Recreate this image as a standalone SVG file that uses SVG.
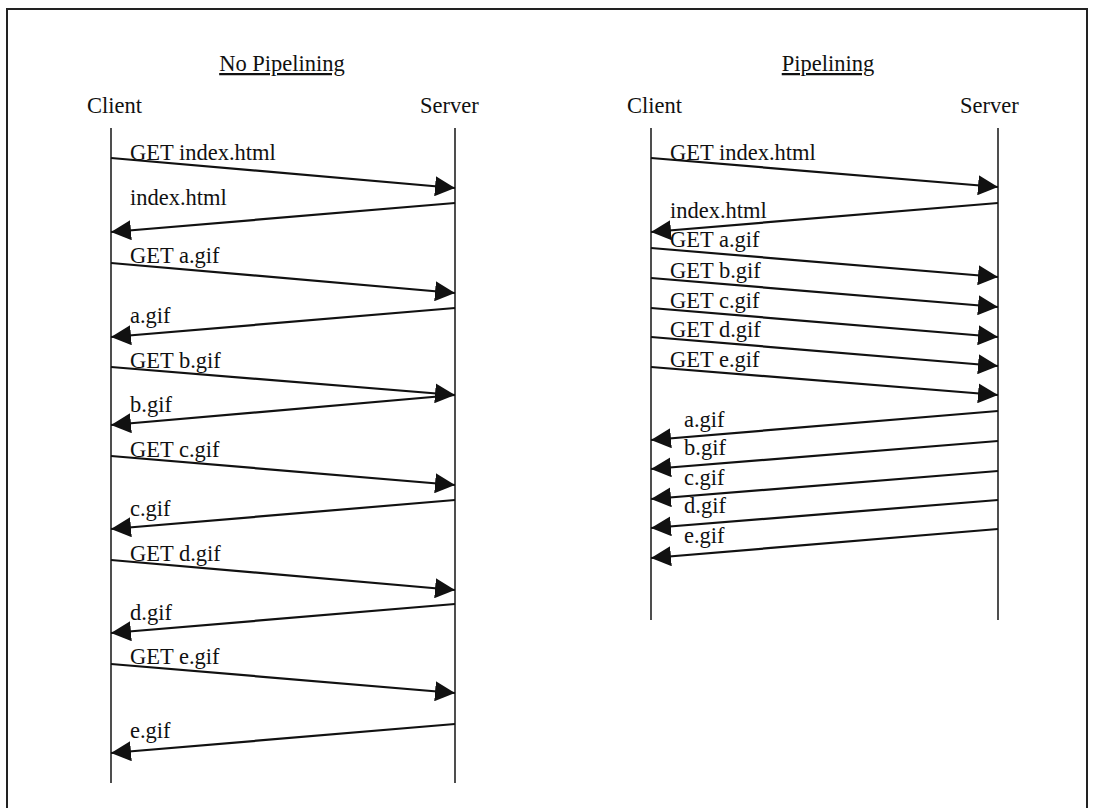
<svg xmlns="http://www.w3.org/2000/svg" width="1094" height="808" viewBox="0 0 1094 808">
<style>
text{font-family:"Liberation Serif","Times New Roman",serif;font-size:22.5px;fill:#111}
.title{text-decoration:underline;text-anchor:middle}
.life{stroke:#222;stroke-width:1.6;fill:none}
.msg{stroke:#111;stroke-width:2.2;fill:none;marker-end:url(#ah)}
</style>
<defs>
<marker id="ah" markerUnits="userSpaceOnUse" viewBox="0 0 20 20" markerWidth="20" markerHeight="20" refX="20" refY="10" orient="auto">
<path d="M0,0 L20,10 L0,20 Z" fill="#111"/>
</marker>
</defs>
<rect width="1094" height="808" fill="#fff"/>
<path d="M7,820 V9 H1087 V820" fill="none" stroke="#222" stroke-width="2"/>

<g id="left-title"><text class="title" x="282" y="71">No Pipelining</text></g>
<g id="left-client"><text x="87" y="113">Client</text><line class="life" x1="111" y1="128" x2="111" y2="783"/></g>
<g id="left-server"><text x="420" y="113">Server</text><line class="life" x1="455" y1="128" x2="455" y2="783"/></g>

<g id="right-title"><text class="title" x="828" y="71">Pipelining</text></g>
<g id="right-client"><text x="627" y="113">Client</text><line class="life" x1="651" y1="128" x2="651" y2="620"/></g>
<g id="right-server"><text x="960" y="113">Server</text><line class="life" x1="998" y1="128" x2="998" y2="620"/></g>

<g id="connectors">
<line class="msg" x1="111" y1="158" x2="455" y2="188"/>
<line class="msg" x1="455" y1="203" x2="111" y2="232"/>
<line class="msg" x1="111" y1="263" x2="455" y2="293"/>
<line class="msg" x1="455" y1="308" x2="111" y2="337"/>
<line class="msg" x1="111" y1="367" x2="455" y2="395"/>
<line class="msg" x1="455" y1="395" x2="111" y2="425"/>
<line class="msg" x1="111" y1="456" x2="455" y2="485"/>
<line class="msg" x1="455" y1="500" x2="111" y2="529"/>
<line class="msg" x1="111" y1="560" x2="455" y2="590"/>
<line class="msg" x1="455" y1="604" x2="111" y2="633"/>
<line class="msg" x1="111" y1="664" x2="455" y2="693"/>
<line class="msg" x1="455" y1="724" x2="111" y2="753"/>

<line class="msg" x1="651" y1="158" x2="998" y2="187"/>
<line class="msg" x1="998" y1="203" x2="651" y2="232"/>
<line class="msg" x1="651" y1="248" x2="998" y2="277"/>
<line class="msg" x1="651" y1="278" x2="998" y2="307"/>
<line class="msg" x1="651" y1="308" x2="998" y2="337"/>
<line class="msg" x1="651" y1="337" x2="998" y2="366"/>
<line class="msg" x1="651" y1="367" x2="998" y2="395"/>
<line class="msg" x1="998" y1="411" x2="651" y2="440"/>
<line class="msg" x1="998" y1="441" x2="651" y2="469"/>
<line class="msg" x1="998" y1="471" x2="651" y2="499"/>
<line class="msg" x1="998" y1="500" x2="651" y2="528"/>
<line class="msg" x1="998" y1="529" x2="651" y2="558"/>
</g>

<g id="labels">
<text x="130" y="160">GET index.html</text>
<text x="130" y="205">index.html</text>
<text x="130" y="263">GET a.gif</text>
<text x="130" y="323">a.gif</text>
<text x="130" y="368">GET b.gif</text>
<text x="130" y="412">b.gif</text>
<text x="130" y="457">GET c.gif</text>
<text x="130" y="516">c.gif</text>
<text x="130" y="561">GET d.gif</text>
<text x="130" y="620">d.gif</text>
<text x="130" y="664">GET e.gif</text>
<text x="130" y="738">e.gif</text>

<text x="670" y="160">GET index.html</text>
<text x="670" y="218">index.html</text>
<text x="670" y="247">GET a.gif</text>
<text x="670" y="278">GET b.gif</text>
<text x="670" y="308">GET c.gif</text>
<text x="670" y="337">GET d.gif</text>
<text x="670" y="367">GET e.gif</text>
<text x="684" y="427">a.gif</text>
<text x="684" y="455">b.gif</text>
<text x="684" y="485">c.gif</text>
<text x="684" y="513">d.gif</text>
<text x="684" y="543">e.gif</text>
</g>
</svg>
